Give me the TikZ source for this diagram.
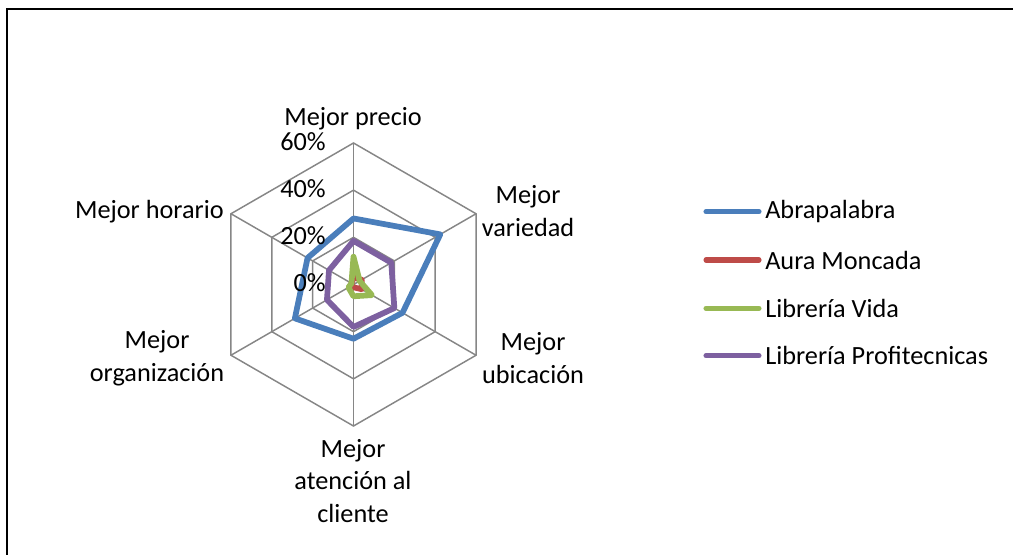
\documentclass[tikz,border=0pt]{standalone}
\usepackage{fontspec}
\setmainfont{Carlito}
\definecolor{gridgray}{HTML}{868686}
\definecolor{sblue}{HTML}{4A7EBB}
\definecolor{sred}{HTML}{BE4B48}
\definecolor{sgreen}{HTML}{98B954}
\definecolor{spurple}{HTML}{7D60A0}
\begin{document}
\begin{tikzpicture}[x=0.75pt,y=-0.75pt,
  lbl/.style={inner sep=0pt,font=\fontsize{19.7}{24.4}\selectfont,align=center},
  pct/.style={inner sep=0pt,font=\fontsize{19.7}{24.4}\selectfont,anchor=base east},
  gridline/.style={draw=gridgray,line width=1.1pt},
  series/.style={line width=4.3pt,line join=round},
  legline/.style={line width=3.8pt,line cap=round}]
\useasboundingbox (0,0) rectangle (1013,555);
\draw[line width=1.5pt] (1013,9) -- (7,9) -- (7,555);
% radar
\begin{scope}[shift={(353.5,284.5)},x=0.75pt,y=0.75pt]
  \def\k{2.3583}
  \coordinate (C) at (0,0);
  \foreach \a in {90,30,-30,-90,-150,150}{
    \coordinate (ax\a) at (\a:141.5);
    \draw[gridline] (C) -- (ax\a);
  }
  \foreach \r in {47.17,94.33,141.5}{
    \draw[gridline] (90:\r) -- (30:\r) -- (-30:\r) -- (-90:\r) -- (-150:\r) -- (150:\r) -- cycle;
  }
  % series: precio, variedad, ubicacion, atencion, organizacion, horario
  \draw[series,sblue] (90:28*\k) -- (30:42.5*\k) -- (-30:24*\k) -- (-90:23*\k) -- (-150:28.7*\k) -- (150:22.5*\k) -- cycle;
  \draw[series,sred] (90:3*\k) -- (30:4*\k) -- (-30:4*\k) -- (-90:1.2*\k) -- (-150:1*\k) -- (150:1*\k) -- cycle;
  \draw[series,sgreen] (90:11.8*\k) -- (30:3*\k) -- (-30:9*\k) -- (-90:5*\k) -- (-150:2.5*\k) -- (150:1*\k) -- cycle;
  \draw[series,spurple] (90:18.5*\k) -- (30:18.5*\k) -- (-30:20*\k) -- (-90:18*\k) -- (-150:13*\k) -- (150:12*\k) -- cycle;
\end{scope}
% percent labels
\node[pct] (p60) at (326,150.7) {60\%};
\node[pct] (p40) at (326,197.7) {40\%};
\node[pct] (p20) at (326,245) {20\%};
\node[pct] (p0) at (326,291.7) {0\%};
% axis labels
\node[lbl,anchor=base] (lprecio) at (353,126) {Mejor precio};
\node[lbl] (lvar) at (528,211) {Mejor\\variedad};
\node[lbl] (lubi) at (533,358) {Mejor\\ubicación};
\node[lbl] (lat) at (353,481) {Mejor\\atención al\\cliente};
\node[lbl] (lorg) at (157,358) {Mejor\\organización};
\node[lbl,anchor=base east] (lhor) at (224,218.5) {Mejor horario};
% legend
\foreach \y/\c/\t/\n in {211.7/sblue/Abrapalabra/la,260/sred/Aura Moncada/lb,308.3/sgreen/Librería Vida/lc,355.7/spurple/Librería Profitecnicas/ld}{
  \coordinate (\n s) at (706,\y);
  \node[lbl,anchor=west] (\n) at (765,\y) {\t};
  \draw[legline,\c,shorten >=4.5pt] (\n s) -- (\n.west);
}
\end{tikzpicture}
\end{document}
